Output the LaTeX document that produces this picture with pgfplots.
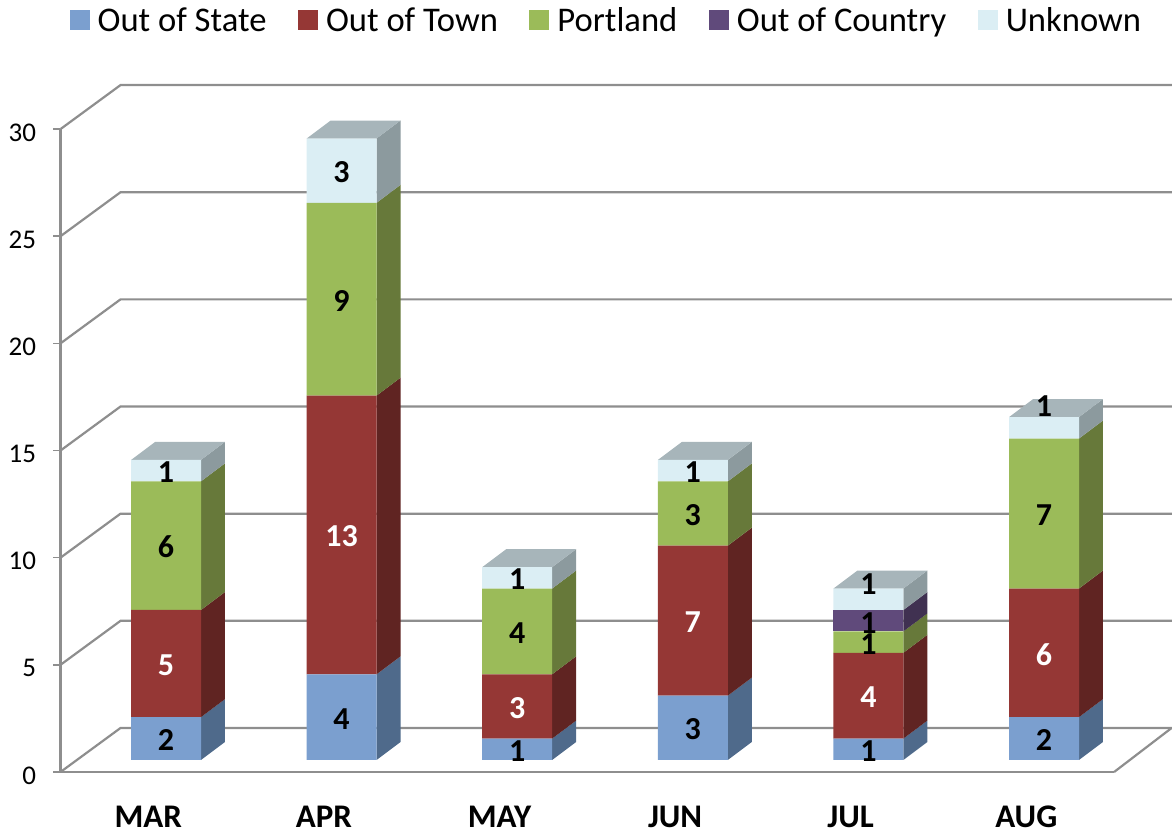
\documentclass[border=0pt]{standalone}
\usepackage{pgfplots}
\usepackage{pgfplotstable}
\usepackage{fontspec}
\setmainfont{Carlito}
\pgfplotsset{compat=1.18}
\definecolor{gridc}{HTML}{8E8E8E}
\definecolor{cblue}{HTML}{7B9FCF}\definecolor{sblue}{HTML}{4F6A8B}
\definecolor{cred}{HTML}{953735}\definecolor{sred}{HTML}{602422}
\definecolor{cgreen}{HTML}{9BBB59}\definecolor{sgreen}{HTML}{67793A}
\definecolor{cpurp}{HTML}{604A7B}\definecolor{spurp}{HTML}{403151}
\definecolor{clight}{HTML}{DBEEF4}\definecolor{slight}{HTML}{8C9A9E}\definecolor{tlight}{HTML}{A7B5BA}
\pgfplotstableread{
i state town portland country unknown
0 2 5 6 0 1
1 4 13 9 0 3
2 1 3 4 0 1
3 3 7 3 0 1
4 1 4 1 1 1
5 2 6 7 0 1
}\datatable
\pgfplotsset{base/.style={x=175.6pt,y=21.43pt,xmin=-0.5,xmax=5.5,ymin=0,ymax=30,clip=false}}
\tikzset{shifted/.style={xshift=17.7pt,yshift=12pt}}
\newcommand{\seg}[4]{\addplot[fill=#4,draw=none,forget plot,shifted] coordinates {({#1+0.199},#2) ({#1+0.199},#3) ({#1+0.3357},{#3+0.84}) ({#1+0.3357},{#2+0.84})} -- cycle;}
\newcommand{\topf}[2]{\addplot[fill=tlight,draw=none,forget plot,shifted] coordinates {({#1-0.199},#2) ({#1+0.199},#2) ({#1+0.3357},{#2+0.84}) ({#1-0.0623},{#2+0.84})} -- cycle;}
\newcommand{\lab}[4]{\node[xshift=17.7pt,yshift=10.5pt,text=#4,inner sep=0pt,font=\fontsize{32}{32}\selectfont\bfseries] at (axis cs:#1,#2) {#3};}
\begin{document}
\begin{tikzpicture}
\useasboundingbox (-60.5pt,-65pt) rectangle (1111.5pt,772pt);
\begin{axis}[base,
  axis lines=left, axis line style={gridc,line width=2.2pt,-},
  xtick={0,1,2,3,4,5}, xticklabels={MAR,APR,MAY,JUN,JUL,AUG},
  minor xtick={-0.5,0.5,1.5,2.5,3.5,4.5,5.5},
  ytick={0,5,10,15,20,25,30},
  tick align=outside, tick pos=left,
  x tick style={draw=none},
  minor x tick style={gridc,line width=1.6pt},
  y tick style={gridc,line width=1.6pt},
  minor tick length=10pt, major tick length=7pt,
  xticklabel style={font=\fontsize{33}{33}\selectfont\bfseries,anchor=base,yshift=-48.5pt},
  yticklabel style={font=\fontsize{27}{27}\selectfont,anchor=east,xshift=-14pt,yshift=-3.5pt},
  /pgf/number format/assume math mode=true,
]
\pgfplotsinvokeforeach{0,5,10,15,20,25,30}{
  \draw[gridc,line width=2.2pt] (axis cs:-0.5,#1) -- ++(60pt,44pt) -- ++(1051.5pt,0pt);
}
\draw[gridc,line width=2.2pt] (axis cs:5.5,0) -- ++(57.5pt,44pt);
\seg{0}{0}{2}{sblue}\seg{0}{2}{7}{sred}\seg{0}{7}{13}{sgreen}\seg{0}{13}{14}{slight}\topf{0}{14}
\seg{1}{0}{4}{sblue}\seg{1}{4}{17}{sred}\seg{1}{17}{26}{sgreen}\seg{1}{26}{29}{slight}\topf{1}{29}
\seg{2}{0}{1}{sblue}\seg{2}{1}{4}{sred}\seg{2}{4}{8}{sgreen}\seg{2}{8}{9}{slight}\topf{2}{9}
\seg{3}{0}{3}{sblue}\seg{3}{3}{10}{sred}\seg{3}{10}{13}{sgreen}\seg{3}{13}{14}{slight}\topf{3}{14}
\seg{4}{0}{1}{sblue}\seg{4}{1}{5}{sred}\seg{4}{5}{6}{sgreen}\seg{4}{6}{7}{spurp}\seg{4}{7}{8}{slight}\topf{4}{8}
\seg{5}{0}{2}{sblue}\seg{5}{2}{8}{sred}\seg{5}{8}{15}{sgreen}\seg{5}{15}{16}{slight}\topf{5}{16}
\end{axis}
\begin{axis}[base, hide axis, ybar stacked, bar width=70pt,
  xtick=\empty,
  legend columns=5,
  legend style={at={(0.0085,1.1892)},anchor=north west,draw=none,fill=none,inner sep=0pt,
    font=\fontsize{34.6}{34.6}\selectfont,
    /tikz/every even column/.append style={column sep=31.5pt},
    /tikz/every odd column/.append style={column sep=8pt},
    nodes={inner sep=0pt,anchor=base west}},
  legend image code/.code={\fill[#1,draw=none] (0pt,-10.5pt) rectangle (20pt,9.5pt);},
]
\addplot[fill=cblue,draw=none,shifted] table[x=i,y=state] {\datatable};
\addplot[fill=cred,draw=none,shifted] table[x=i,y=town] {\datatable};
\addplot[fill=cgreen,draw=none,shifted] table[x=i,y=portland] {\datatable};
\addplot[fill=cpurp,draw=none,shifted] table[x=i,y=country] {\datatable};
\addplot[fill=clight,draw=none,shifted] table[x=i,y=unknown] {\datatable};
\legend{Out of State,Out of Town,Portland,Out of Country,Unknown}
\end{axis}
\begin{axis}[base, hide axis]
\lab{0}{1}{2}{black}\lab{0}{4.5}{5}{white}\lab{0}{10}{6}{black}\lab{0}{13.5}{1}{black}
\lab{1}{2}{4}{black}\lab{1}{10.5}{13}{white}\lab{1}{21.5}{9}{black}\lab{1}{27.5}{3}{black}
\lab{2}{0.5}{1}{black}\lab{2}{2.5}{3}{white}\lab{2}{6}{4}{black}\lab{2}{8.5}{1}{black}
\lab{3}{1.5}{3}{black}\lab{3}{6.5}{7}{white}\lab{3}{11.5}{3}{black}\lab{3}{13.5}{1}{black}
\lab{4}{0.5}{1}{black}\lab{4}{3}{4}{white}\lab{4}{5.5}{1}{black}\lab{4}{6.45}{1}{black}\lab{4}{8.27}{1}{black}
\lab{5}{1}{2}{black}\lab{5}{5}{6}{white}\lab{5}{11.5}{7}{black}\lab{5}{16.57}{1}{black}
\end{axis}
\end{tikzpicture}
\end{document}
